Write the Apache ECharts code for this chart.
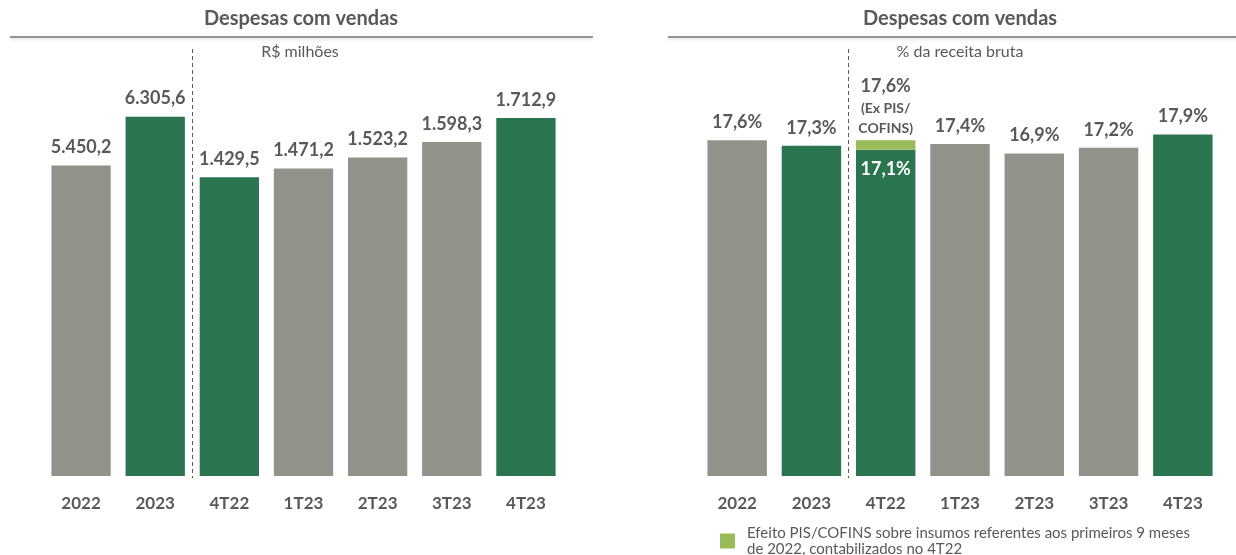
<!DOCTYPE html>
<html>
<head>
<meta charset="utf-8">
<script src="https://cdn.jsdelivr.net/npm/echarts@6/dist/echarts.min.js"></script>
<style>
  html, body { margin: 0; padding: 0; background: #fff; }
  #chart { width: 1236px; height: 555px; }
</style>
</head>
<body>
<div id="chart"></div>
<script>
// categorias
var categories = ["2022", "2023", "4T22", "1T23", "2T23", "3T23", "4T23"];
// R$ milhões: anual (2022, 2023) e trimestral
var valAnnual = [5450.2, 6305.6, "-", "-", "-", "-", "-"];
var valQuarter = ["-", "-", 1429.5, 1471.2, 1523.2, 1598.3, 1712.9];
// % da receita bruta
var pctBase = [17.6, 17.3, 17.1, 17.4, 16.9, 17.2, 17.9];
var pctPis = ["-", "-", 0.5, "-", "-", "-", "-"]; // efeito PIS/COFINS
var greenCats = ["2023", "4T22", "4T23"];

var GRAY = "#92918a";
var GREEN = "#2a754f";
var LIGHT = "#9bbb59";
var TXT = "#595959";
var FONT = "Lato";
var pisName = "Efeito PIS/COFINS sobre insumos referentes aos primeiros 9 meses\nde 2022, contabilizados no 4T22";

function fmtBR(v) {
  var p = Number(v).toFixed(1).split(".");
  return p[0].replace(/\B(?=(\d{3})+(?!\d))/g, ".") + "," + p[1];
}
function barColor(p) {
  return greenCats.indexOf(p.name) >= 0 ? GREEN : GRAY;
}

var valLabel = {
  show: true,
  position: "top",
  distance: 9,
  color: TXT,
  fontFamily: FONT,
  fontWeight: "bold",
  fontSize: 18,
  formatter: function (p) { return fmtBR(p.value); }
};
var pctLabel = {
  show: true,
  position: "top",
  distance: 9,
  color: TXT,
  fontFamily: FONT,
  fontWeight: "bold",
  fontSize: 18,
  formatter: function (p) { return fmtBR(p.value) + "%"; }
};

var baseData = pctBase.map(function (v, i) {
  if (pctPis[i] !== "-") {
    return {
      value: v,
      label: { position: "insideTop", distance: 10, color: "#fff" }
    };
  }
  return v;
});

function catAxis(gi) {
  return {
    type: "category",
    gridIndex: gi,
    data: categories,
    axisLine: { show: false },
    axisTick: { show: false },
    axisLabel: {
      color: TXT,
      fontFamily: FONT,
      fontWeight: "bold",
      fontSize: 17,
      margin: 19
    }
  };
}
function valAxis(gi, max) {
  return { type: "value", gridIndex: gi, min: 0, max: max, show: false, splitLine: { show: false } };
}

var option = {
  animation: false,
  textStyle: { fontFamily: FONT },
  grid: [
    { left: 44, width: 519, top: 60, bottom: 79 },
    { left: 700, width: 520, top: 60, bottom: 79 }
  ],
  xAxis: [catAxis(0), catAxis(1)],
  yAxis: [valAxis(0, 7300), valAxis(0, 1990), valAxis(1, 21.8)],
  legend: {
    left: 720,
    top: 525,
    padding: 0,
    data: [pisName],
    icon: "rect",
    itemWidth: 15,
    itemHeight: 15,
    itemGap: 0,
    textStyle: { color: TXT, fontFamily: FONT, fontSize: 15, lineHeight: 16, padding: [0, 0, 0, 7] }
  },
  graphic: [
    { type: "text", x: 301, y: 9, style: { text: "Despesas com vendas", textAlign: "center", fill: TXT, font: "bold 20px Lato" } },
    { type: "text", x: 960, y: 9, style: { text: "Despesas com vendas", textAlign: "center", fill: TXT, font: "bold 20px Lato" } },
    { type: "line", shape: { x1: 10, y1: 37, x2: 593, y2: 37 }, style: { stroke: "#6f6f6f", lineWidth: 1.5, shadowColor: "rgba(0,0,0,0.15)", shadowBlur: 3, shadowOffsetY: 2 } },
    { type: "line", shape: { x1: 668, y1: 37, x2: 1236, y2: 37 }, style: { stroke: "#6f6f6f", lineWidth: 1.5, shadowColor: "rgba(0,0,0,0.15)", shadowBlur: 3, shadowOffsetY: 2 } },
    { type: "text", x: 300, y: 44, style: { text: "R$ milhões", textAlign: "center", fill: TXT, font: "16px Lato" } },
    { type: "text", x: 960, y: 44, style: { text: "% da receita bruta", textAlign: "center", fill: TXT, font: "16px Lato" } },
    { type: "line", shape: { x1: 192.5, y1: 49, x2: 192.5, y2: 478 }, style: { stroke: TXT, lineWidth: 1, lineDash: [4, 3] } },
    { type: "line", shape: { x1: 848.5, y1: 49, x2: 848.5, y2: 478 }, style: { stroke: TXT, lineWidth: 1, lineDash: [4, 3] } }
  ],
  series: [
    {
      type: "bar",
      xAxisIndex: 0,
      yAxisIndex: 0,
      data: valAnnual,
      barWidth: "80%",
      barGap: "-100%",
      itemStyle: { color: barColor },
      label: valLabel
    },
    {
      type: "bar",
      xAxisIndex: 0,
      yAxisIndex: 1,
      data: valQuarter,
      barWidth: "80%",
      barGap: "-100%",
      itemStyle: { color: barColor },
      label: valLabel
    },
    {
      type: "bar",
      name: "base",
      xAxisIndex: 1,
      yAxisIndex: 2,
      stack: "pct",
      data: baseData,
      barWidth: "80%",
      itemStyle: { color: barColor },
      label: pctLabel
    },
    {
      type: "bar",
      name: pisName,
      xAxisIndex: 1,
      yAxisIndex: 2,
      stack: "pct",
      data: pctPis,
      barWidth: "80%",
      itemStyle: { color: LIGHT },
      label: {
        show: true,
        position: "top",
        distance: 2,
        formatter: function (p) {
          var total = pctBase[p.dataIndex] + p.value;
          return "{a|" + fmtBR(total) + "%}\n{b|(Ex PIS/}\n{b|COFINS)}";
        },
        rich: {
          a: { color: TXT, fontFamily: FONT, fontWeight: "bold", fontSize: 18, lineHeight: 24 },
          b: { color: TXT, fontFamily: FONT, fontWeight: "bold", fontSize: 14, lineHeight: 20 }
        }
      }
    }
  ]
};

var myChart = echarts.init(document.getElementById("chart"));
myChart.setOption(option);
</script>
</body>
</html>
